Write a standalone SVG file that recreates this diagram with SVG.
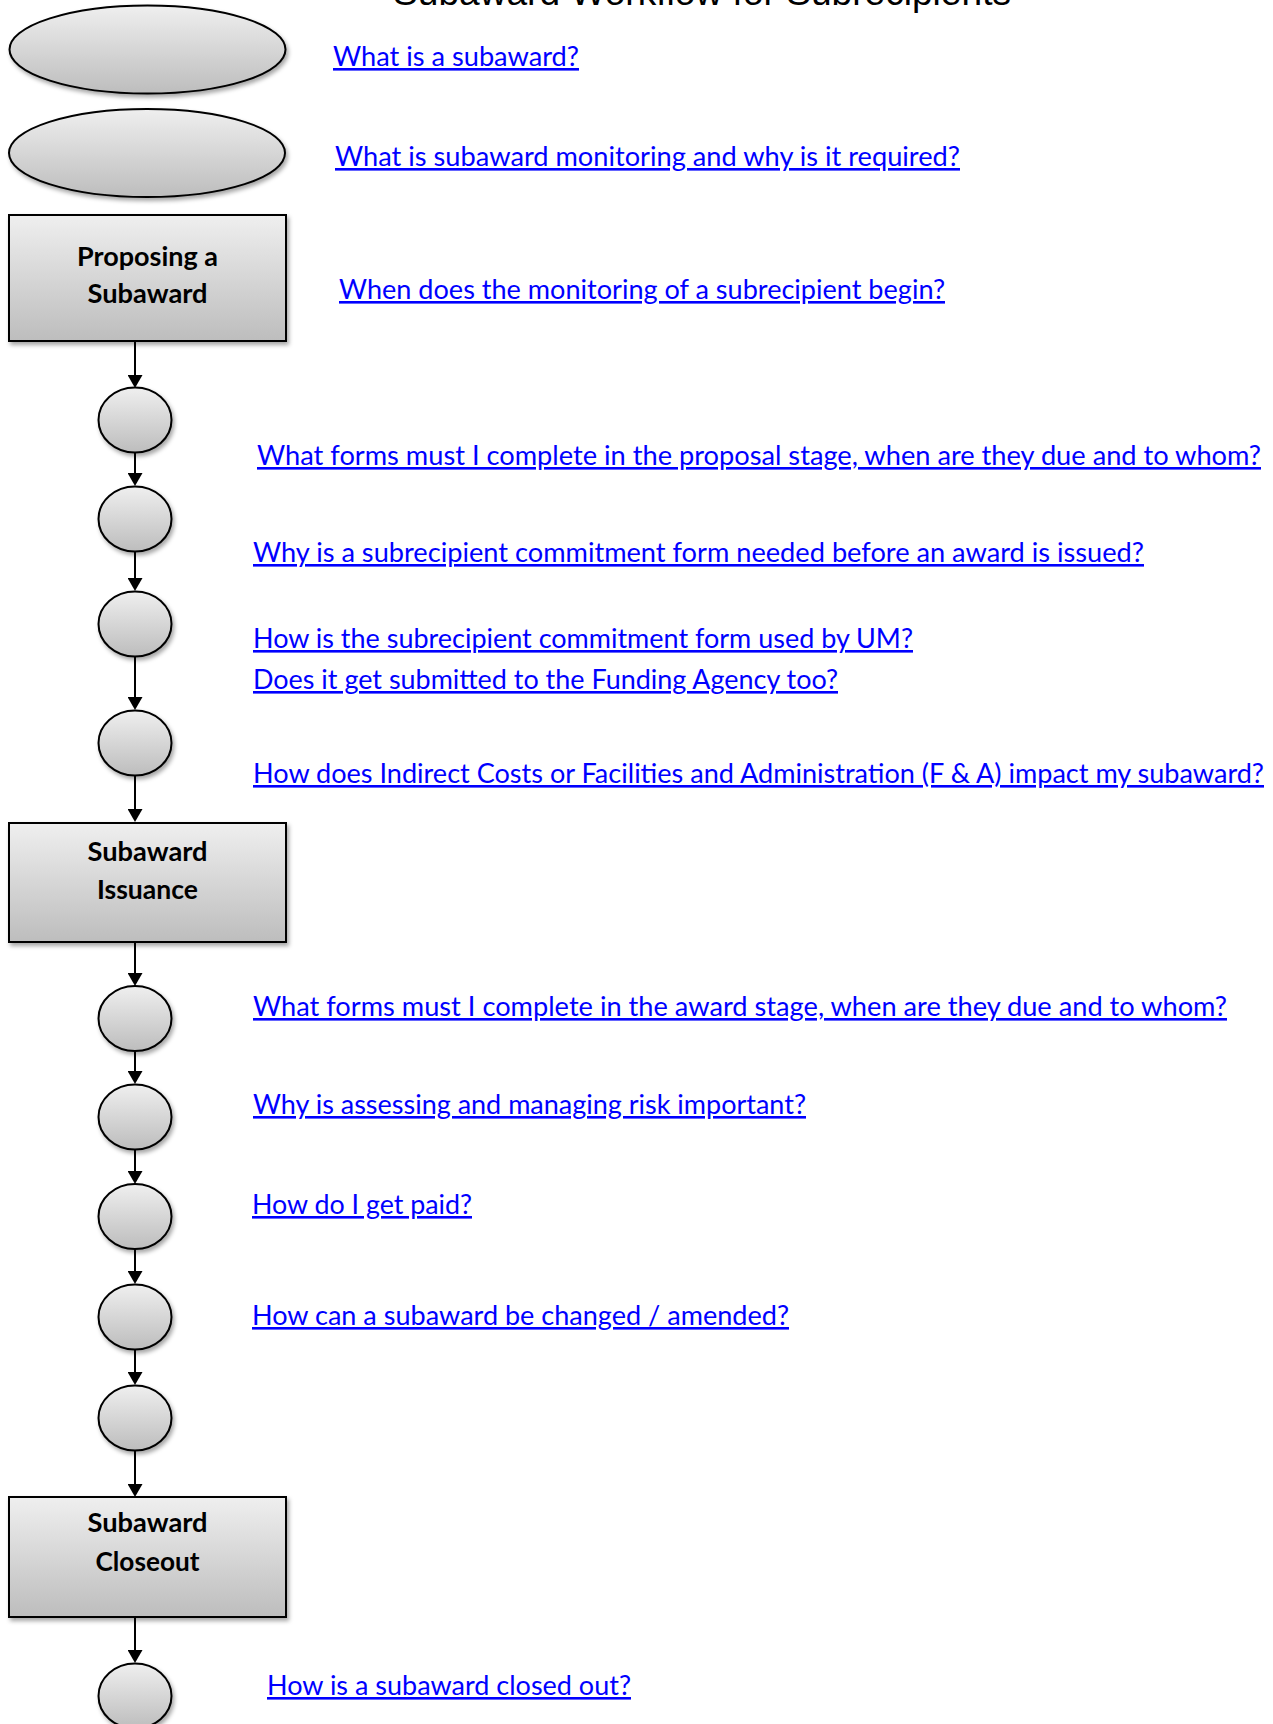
<svg xmlns="http://www.w3.org/2000/svg" width="1273" height="1724" viewBox="0 0 1273 1724">
<style>
.title{font-family:"Liberation Sans",Arial,sans-serif;font-size:37px;fill:#000}
.box{fill:url(#g);stroke:#000;stroke-width:2;filter:url(#sh)}
.ell{fill:url(#g);stroke:#000;stroke-width:2;filter:url(#sh)}
.lbl{font-family:Lato,"Noto Sans",sans-serif;font-weight:bold;font-size:26px;fill:#000;text-anchor:middle}
.lnk{font-family:Lato,"Noto Sans",sans-serif;font-size:26px;fill:#0000ff;text-decoration:underline;text-decoration-thickness:2px;text-underline-offset:3px}
.con{stroke:#000;stroke-width:2;fill:none;marker-end:url(#ah)}
</style>
<defs>
<linearGradient id="g" x1="0" y1="0" x2="0" y2="1">
<stop offset="0" stop-color="#efefef"/>
<stop offset="1" stop-color="#bdbdbd"/>
</linearGradient>
<filter id="sh" x="-20%" y="-20%" width="140%" height="150%">
<feDropShadow dx="2" dy="3" stdDeviation="2" flood-color="#000" flood-opacity="0.35"/>
</filter>
<marker id="ah" viewBox="0 0 13 15" refX="0" refY="7.5" markerWidth="13" markerHeight="15" markerUnits="userSpaceOnUse" orient="auto">
<path d="M0,0 L13,7.5 L0,15 z" fill="#000"/>
</marker>
</defs>
<rect width="1273" height="1724" fill="#fff"/>
<text class="title" x="702" y="5" text-anchor="middle" textLength="618" lengthAdjust="spacingAndGlyphs">Subaward Workflow for Subrecipients</text>

<g id="connectors">
<line class="con" x1="135" y1="342" x2="135" y2="375"/>
<line class="con" x1="135" y1="452" x2="135" y2="473"/>
<line class="con" x1="135" y1="551" x2="135" y2="578"/>
<line class="con" x1="135" y1="657" x2="135" y2="697"/>
<line class="con" x1="135" y1="776" x2="135" y2="809"/>
<line class="con" x1="135" y1="943" x2="135" y2="973"/>
<line class="con" x1="135" y1="1051" x2="135" y2="1071"/>
<line class="con" x1="135" y1="1150" x2="135" y2="1171"/>
<line class="con" x1="135" y1="1249" x2="135" y2="1271"/>
<line class="con" x1="135" y1="1350" x2="135" y2="1372"/>
<line class="con" x1="135" y1="1451" x2="135" y2="1484"/>
<line class="con" x1="135" y1="1618" x2="135" y2="1650"/>
</g>

<g id="start1"><ellipse class="ell" cx="147.5" cy="49.5" rx="138" ry="44"/></g>
<g id="start2"><ellipse class="ell" cx="147" cy="153" rx="138" ry="44"/></g>
<g id="proposing"><rect class="box" x="9" y="215" width="277" height="126"/>
<text class="lbl" x="147.5" y="266" textLength="141" lengthAdjust="spacingAndGlyphs">Proposing a</text>
<text class="lbl" x="147.5" y="303" textLength="120" lengthAdjust="spacingAndGlyphs">Subaward</text></g>
<g id="c1"><ellipse class="ell" cx="135" cy="420" rx="36.5" ry="32.5"/></g>
<g id="c2"><ellipse class="ell" cx="135" cy="519" rx="36.5" ry="32.5"/></g>
<g id="c3"><ellipse class="ell" cx="135" cy="624" rx="36.5" ry="32.5"/></g>
<g id="c4"><ellipse class="ell" cx="135" cy="743" rx="36.5" ry="32.5"/></g>
<g id="issuance"><rect class="box" x="9" y="823" width="277" height="119"/>
<text class="lbl" x="147.5" y="861" textLength="120" lengthAdjust="spacingAndGlyphs">Subaward</text>
<text class="lbl" x="147.5" y="899" textLength="101" lengthAdjust="spacingAndGlyphs">Issuance</text></g>
<g id="c5"><ellipse class="ell" cx="135" cy="1018.5" rx="36.5" ry="32.5"/></g>
<g id="c6"><ellipse class="ell" cx="135" cy="1117" rx="36.5" ry="32.5"/></g>
<g id="c7"><ellipse class="ell" cx="135" cy="1216.5" rx="36.5" ry="32.5"/></g>
<g id="c8"><ellipse class="ell" cx="135" cy="1317" rx="36.5" ry="32.5"/></g>
<g id="c9"><ellipse class="ell" cx="135" cy="1418" rx="36.5" ry="32.5"/></g>
<g id="closeout"><rect class="box" x="9" y="1497" width="277" height="120"/>
<text class="lbl" x="147.5" y="1532" textLength="120" lengthAdjust="spacingAndGlyphs">Subaward</text>
<text class="lbl" x="147.5" y="1571" textLength="104" lengthAdjust="spacingAndGlyphs">Closeout</text></g>
<g id="c10"><ellipse class="ell" cx="135" cy="1696" rx="36.5" ry="32.5"/></g>

<g id="links">
<text class="lnk" x="333" y="66" textLength="246" lengthAdjust="spacingAndGlyphs">What is a subaward?</text>
<text class="lnk" x="335" y="166" textLength="625" lengthAdjust="spacingAndGlyphs">What is subaward monitoring and why is it required?</text>
<text class="lnk" x="339" y="299" textLength="606" lengthAdjust="spacingAndGlyphs">When does the monitoring of a subrecipient begin?</text>
<text class="lnk" x="257" y="465" textLength="1004" lengthAdjust="spacingAndGlyphs">What forms must I complete in the proposal stage, when are they due and to whom?</text>
<text class="lnk" x="253" y="562" textLength="891" lengthAdjust="spacingAndGlyphs">Why is a subrecipient commitment form needed before an award is issued?</text>
<text class="lnk" x="253" y="648" textLength="660" lengthAdjust="spacingAndGlyphs">How is the subrecipient commitment form used by UM?</text>
<text class="lnk" x="253" y="689" textLength="585" lengthAdjust="spacingAndGlyphs">Does it get submitted to the Funding Agency too?</text>
<text class="lnk" x="253" y="783" textLength="1011" lengthAdjust="spacingAndGlyphs">How does Indirect Costs or Facilities and Administration (F &amp; A) impact my subaward?</text>
<text class="lnk" x="253" y="1016" textLength="974" lengthAdjust="spacingAndGlyphs">What forms must I complete in the award stage, when are they due and to whom?</text>
<text class="lnk" x="253" y="1114" textLength="553" lengthAdjust="spacingAndGlyphs">Why is assessing and managing risk important?</text>
<text class="lnk" x="252" y="1214" textLength="220" lengthAdjust="spacingAndGlyphs">How do I get paid?</text>
<text class="lnk" x="252" y="1325" textLength="537" lengthAdjust="spacingAndGlyphs">How can a subaward be changed / amended?</text>
<text class="lnk" x="267" y="1695" textLength="364" lengthAdjust="spacingAndGlyphs">How is a subaward closed out?</text>
</g>
</svg>
